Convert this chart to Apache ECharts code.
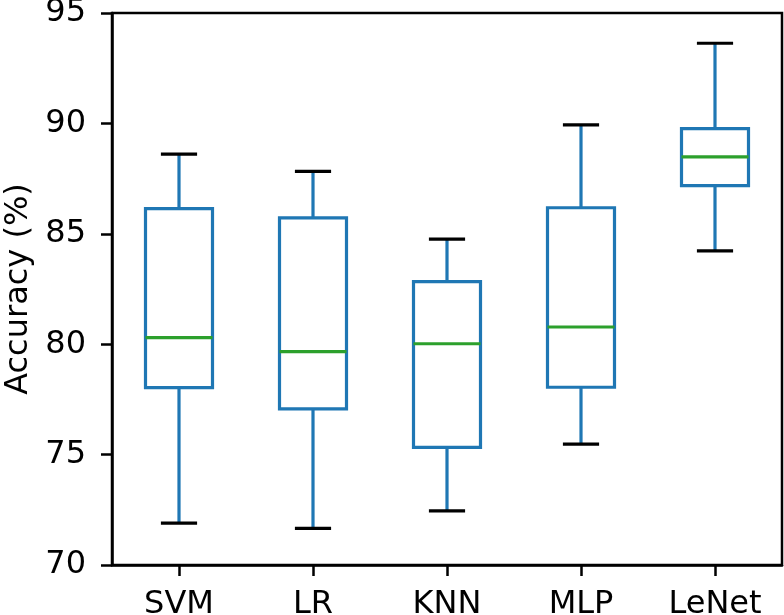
<!DOCTYPE html>
<html>
<head>
<meta charset="utf-8">
<script src="https://cdn.jsdelivr.net/npm/echarts@6/dist/echarts.min.js"></script>
<style>html,body{margin:0;padding:0;background:#fff;}#c{width:784px;height:615px;}</style>
</head>
<body>
<div id="c"></div>
<script>
const categories = ['SVM', 'LR', 'KNN', 'MLP', 'LeNet'];
const whiskerLow  = [71.90, 71.66, 72.45, 75.47, 84.23];
const quartile1   = [78.03, 77.07, 75.33, 78.05, 87.18];
const medians     = [80.30, 79.66, 80.02, 80.78, 88.48];
const quartile3   = [86.14, 85.72, 82.83, 86.18, 89.76];
const whiskerHigh = [88.61, 87.83, 84.76, 89.93, 93.63];
const yTicks = [70, 75, 80, 85, 90, 95];

const FONT = 'DejaVu Sans';
const BLUE = '#1f77b4', GREEN = '#2ca02c';

const data = categories.map((c, i) => [i, whiskerLow[i], quartile1[i], medians[i], quartile3[i], whiskerHigh[i]]);

const chart = echarts.init(document.getElementById('c'), null, {renderer: 'canvas'});
chart.setOption({
  animation: false,
  backgroundColor: '#fff',
  grid: {left: 112, right: 2, top: 13, bottom: 50, containLabel: false, outerBoundsMode: 'none',
         show: true, borderColor: '#000', borderWidth: 2.5, backgroundColor: 'transparent'},
  xAxis: {
    type: 'category', data: categories, boundaryGap: true,
    axisLine: {show: true, lineStyle: {color: '#000', width: 2.5}},
    axisTick: {show: true, alignWithLabel: true, length: 11, lineStyle: {color: '#000', width: 2.5}},
    axisLabel: {color: '#000', fontFamily: FONT, fontSize: 32, margin: 24},
    splitLine: {show: false}
  },
  yAxis: {
    type: 'value', min: yTicks[0], max: yTicks[yTicks.length - 1], interval: 5,
    name: 'Accuracy (%)', nameLocation: 'middle', nameGap: 76, nameRotate: 90,
    nameTextStyle: {color: '#000', fontFamily: FONT, fontSize: 32},
    axisLine: {show: true, lineStyle: {color: '#000', width: 2.5}},
    axisTick: {show: true, length: 11, lineStyle: {color: '#000', width: 2.5}},
    axisLabel: {color: '#000', fontFamily: FONT, fontSize: 32, margin: 26},
    splitLine: {show: false}
  },
  series: [{
    type: 'custom',
    data: data,
    encode: {x: 0, y: [1, 2, 3, 4, 5]},
    renderItem: function (params, api) {
      const idx = api.value(0);
      const band = api.size([1, 0])[0];
      const bw = band * 0.5, cw = band * 0.27;
      const pLo = api.coord([idx, api.value(1)]);
      const pQ1 = api.coord([idx, api.value(2)]);
      const pMd = api.coord([idx, api.value(3)]);
      const pQ3 = api.coord([idx, api.value(4)]);
      const pHi = api.coord([idx, api.value(5)]);
      const x = pMd[0];
      const lw = 3.2;
      const blue = {stroke: BLUE, lineWidth: lw, fill: null};
      return {
        type: 'group',
        children: [
          {type: 'line', shape: {x1: x, y1: pQ3[1], x2: x, y2: pHi[1]}, style: blue},
          {type: 'line', shape: {x1: x, y1: pQ1[1], x2: x, y2: pLo[1]}, style: blue},
          {type: 'rect', shape: {x: x - bw / 2, y: pQ3[1], width: bw, height: pQ1[1] - pQ3[1]}, style: {stroke: BLUE, lineWidth: lw, fill: 'rgba(0,0,0,0)'}},
          {type: 'line', shape: {x1: x - bw / 2, y1: pMd[1], x2: x + bw / 2, y2: pMd[1]}, style: {stroke: GREEN, lineWidth: lw}},
          {type: 'line', shape: {x1: x - cw / 2, y1: pHi[1], x2: x + cw / 2, y2: pHi[1]}, style: {stroke: '#000', lineWidth: lw}},
          {type: 'line', shape: {x1: x - cw / 2, y1: pLo[1], x2: x + cw / 2, y2: pLo[1]}, style: {stroke: '#000', lineWidth: lw}}
        ]
      };
    }
  }]
});
</script>
</body>
</html>
